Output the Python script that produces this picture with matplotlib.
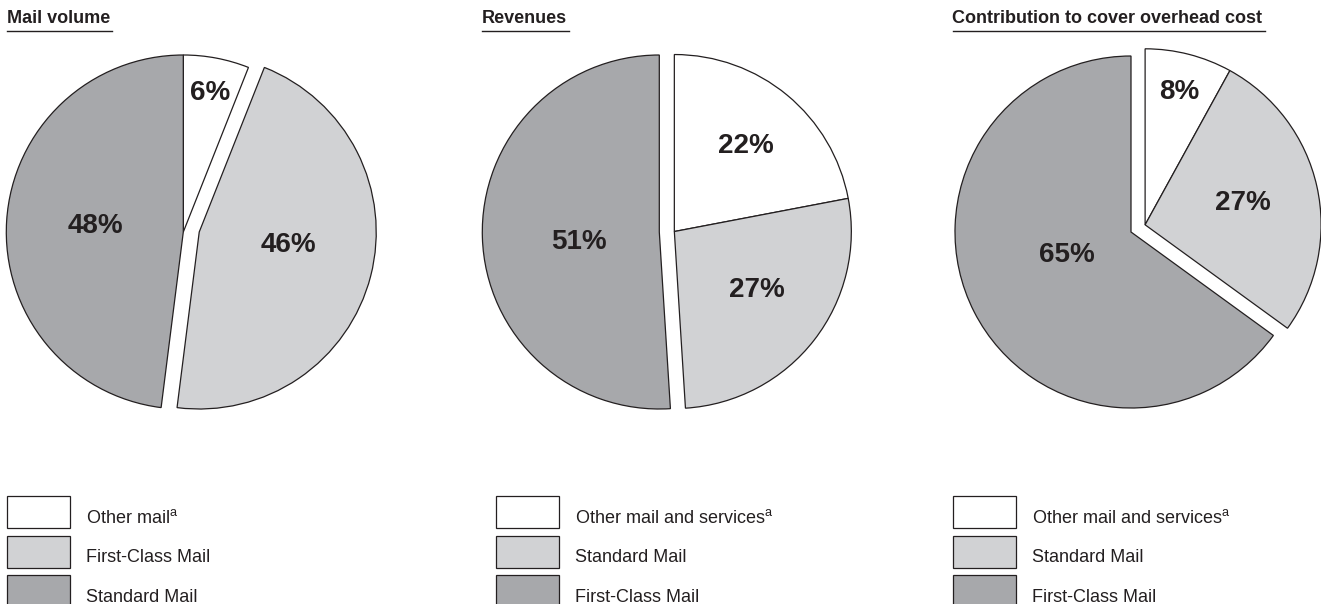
import numpy as np
import matplotlib
matplotlib.use("Agg")
import matplotlib.pyplot as plt
from matplotlib.patches import Rectangle
from matplotlib.lines import Line2D

plt.rcParams['font.family'] = ['Liberation Sans', 'DejaVu Sans']
plt.rcParams['mathtext.fontset'] = 'custom'
plt.rcParams['mathtext.rm'] = 'Liberation Sans'

# ---------------- data ----------------
titles = ["Mail volume", "Revenues", "Contribution to cover overhead cost"]

volume_values = [6, 46, 48]
revenue_values = [22, 27, 51]
contribution_values = [8, 27, 65]

volume_labels = ["Other mail$^{\\mathrm{a}}$", "First-Class Mail", "Standard Mail"]
revenue_labels = ["Other mail and services$^{\\mathrm{a}}$", "Standard Mail", "First-Class Mail"]
contribution_labels = ["Other mail and services$^{\\mathrm{a}}$", "Standard Mail", "First-Class Mail"]

# ---------------- style / layout ----------------
slice_colors = ["#ffffff", "#d1d2d4", "#a7a8ab"]
edge_color = "#231f20"
text_color = "#231f20"

W, H = 1321, 604
fig = plt.figure(figsize=(W / 100, H / 100), dpi=100)
fig.patch.set_facecolor("white")

pies = [
    dict(values=volume_values, legend=volume_labels, title=titles[0],
         cx=183.3, cy=232, r=177, group=[1], explode=0.09, explode_dir=0.0,
         lab_dist=[0.80, 0.51, 0.50], lab_rot=[0, 6.2, 0],
         title_x=6.7, box_x=6.7),
    dict(values=revenue_values, legend=revenue_labels, title=titles[1],
         cx=659.3, cy=232, r=177, group=[0, 1], explode=0.085, explode_dir=None,
         lab_dist=[0.63, 0.57, 0.46], lab_rot=[0, 2.7, 5],
         title_x=481.7, box_x=496),
    dict(values=contribution_values, legend=contribution_labels, title=titles[2],
         cx=1131, cy=232, r=176, group=[0, 1], explode=0.09, explode_dir=None,
         lab_dist=[0.78, 0.57, 0.39], lab_rot=[0, 0, -7],
         title_x=952.5, box_x=952.7),
]

renderer = fig.canvas.get_renderer()
L = 210  # half-size of each pie axes in pixels

for p in pies:
    r = p["r"]
    ax = fig.add_axes([(p["cx"] - L) / W, (H - p["cy"] - L) / H, 2 * L / W, 2 * L / H])
    lim = L / r

    vals = np.array(p["values"], dtype=float)
    wedges, _ = ax.pie(vals, colors=slice_colors, startangle=90, counterclock=False,
                       radius=1, center=(0, 0), frame=True,
                       wedgeprops=dict(edgecolor=edge_color, linewidth=0.9))
    ax.set_xlim(-lim, lim)
    ax.set_ylim(-lim, lim)
    ax.set_axis_off()

    # explode the grouped wedges together
    frac = vals / vals.sum()
    g0 = min(p["group"])
    start = 90 - 360 * frac[:g0].sum()
    span = 360 * frac[p["group"]].sum()
    if p["explode_dir"] is None:
        mid = np.deg2rad(start - span / 2)
    else:
        mid = np.deg2rad(p["explode_dir"])
    off = (p["explode"] * np.cos(mid), p["explode"] * np.sin(mid))
    for i in p["group"]:
        wedges[i].set_center(off)

    # percentage labels
    for i, w in enumerate(wedges):
        ang = np.deg2rad((w.theta1 + w.theta2) / 2 + p["lab_rot"][i])
        c = w.center
        d = p["lab_dist"][i]
        ax.text(c[0] + d * np.cos(ang), c[1] + d * np.sin(ang),
                f"{int(vals[i])}%", ha="center", va="center",
                fontsize=20, fontweight="bold", color=text_color)

    # title with underline
    t = fig.text(p["title_x"] / W, 1 - 23.3 / H, p["title"], fontsize=13,
                 fontweight="bold", color=text_color, ha="left", va="baseline")
    bb = t.get_window_extent(renderer)
    x_end = (bb.x1 + 2) / W
    fig.add_artist(Line2D([p["title_x"] / W, x_end], [1 - 30.7 / H, 1 - 30.7 / H],
                          transform=fig.transFigure, color=text_color, linewidth=1.0))

    # legend
    for i, lab in enumerate(p["legend"]):
        top = 496 + 39.5 * i
        rect = Rectangle((p["box_x"] / W, 1 - (top + 32) / H), 63 / W, 32 / H,
                         transform=fig.transFigure, facecolor=slice_colors[i],
                         edgecolor=edge_color, linewidth=0.9)
        fig.add_artist(rect)
        fig.text((p["box_x"] + 79) / W, 1 - (top + 27) / H, lab, fontsize=13,
                 color=text_color, ha="left", va="baseline")

fig.savefig("out.png", dpi=100, facecolor="white")
